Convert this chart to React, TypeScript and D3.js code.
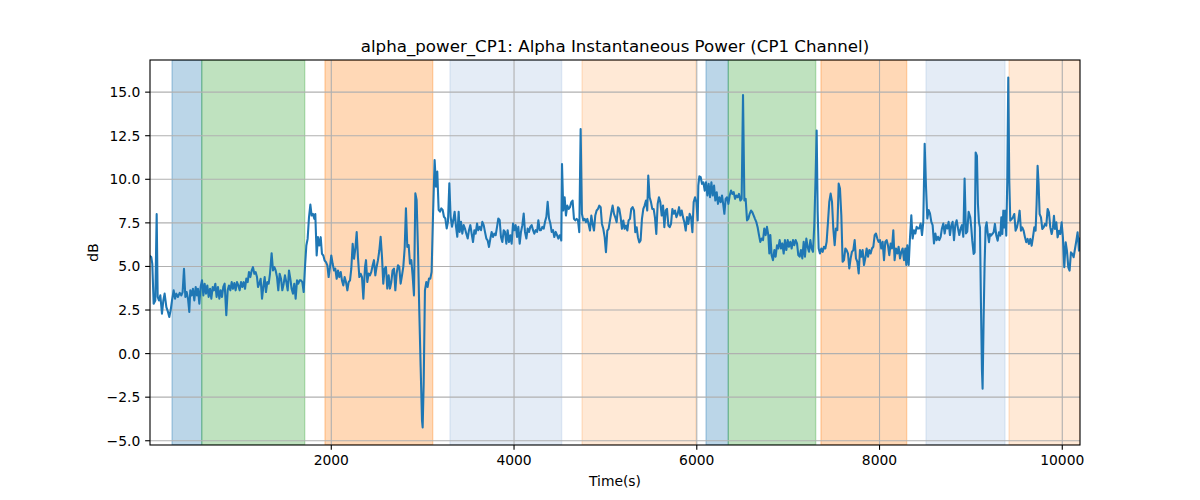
import React from "react";
import * as d3 from "d3";

// alpha_power_CP1 samples: [time (s), power (dB)]
const alphaPower: [number, number][] = [
  [16, 5.6], [30, 5.54], [41, 5.15], [56, 2.86], [74, 3.05], [89, 8.0], [100, 3.25], [114, 3.05], [129, 3.34],
  [147, 2.29], [162, 3.05], [176, 3.44], [195, 2.67], [213, 2.39], [227, 2.1], [242, 2.48], [257, 3.05],
  [275, 3.63], [290, 3.15], [304, 3.44], [322, 3.25], [341, 3.48], [359, 3.34], [373, 3.53], [388, 4.87],
  [403, 3.25], [417, 3.53], [432, 3.15], [446, 2.39], [457, 3.63], [472, 3.34], [486, 3.72], [501, 3.05],
  [516, 3.82], [530, 3.34], [541, 3.72], [556, 2.86], [570, 3.82], [585, 4.2], [600, 3.34], [614, 4.01],
  [629, 3.44], [643, 3.91], [658, 3.25], [673, 3.72], [687, 3.15], [702, 3.82], [716, 3.63], [731, 4.01],
  [745, 3.25], [760, 3.82], [775, 3.15], [789, 3.63], [804, 3.25], [818, 3.82], [833, 4.01], [851, 2.2],
  [866, 3.63], [880, 3.91], [895, 3.63], [910, 4.1], [924, 3.72], [939, 4.05], [953, 3.63], [968, 4.1],
  [983, 3.91], [997, 3.63], [1012, 4.1], [1026, 3.82], [1041, 4.1], [1056, 3.72], [1070, 4.3], [1085, 4.1],
  [1099, 4.68], [1114, 4.39], [1129, 4.77], [1143, 4.96], [1158, 4.58], [1172, 4.68], [1187, 4.39],
  [1198, 3.82], [1212, 4.01], [1227, 4.29], [1242, 3.15], [1256, 3.82], [1271, 4.39], [1285, 3.53],
  [1300, 4.1], [1315, 4.01], [1329, 4.58], [1347, 5.76], [1362, 4.77], [1377, 4.96], [1391, 4.77],
  [1406, 4.39], [1420, 3.63], [1435, 4.58], [1450, 4.29], [1464, 3.63], [1479, 4.01], [1493, 4.49],
  [1508, 4.1], [1523, 3.63], [1537, 4.77], [1552, 4.29], [1566, 3.72], [1581, 3.44], [1595, 4.01],
  [1610, 3.15], [1625, 4.2], [1639, 4.01], [1654, 4.2], [1668, 4.2], [1683, 4.1], [1698, 3.53], [1712, 4.96],
  [1727, 6.2], [1741, 6.58], [1756, 7.82], [1771, 8.55], [1785, 7.92], [1800, 8.01], [1814, 7.73],
  [1825, 8.01], [1840, 5.63], [1854, 6.68], [1869, 6.2], [1884, 6.68], [1898, 5.72], [1913, 5.63],
  [1927, 5.34], [1942, 5.25], [1957, 5.06], [1971, 4.39], [1986, 4.96], [2000, 5.63], [2015, 5.15],
  [2030, 4.77], [2044, 4.87], [2059, 4.29], [2073, 4.77], [2088, 4.39], [2103, 4.68], [2117, 4.2],
  [2132, 3.91], [2146, 4.39], [2161, 4.1], [2176, 3.63], [2190, 4.1], [2205, 4.2], [2219, 4.87], [2234, 6.3],
  [2249, 5.44], [2263, 6.01], [2278, 6.97], [2292, 5.53], [2307, 4.39], [2322, 4.58], [2336, 4.39],
  [2351, 3.15], [2369, 4.96], [2380, 5.36], [2394, 4.11], [2409, 4.59], [2423, 4.49], [2438, 4.69],
  [2453, 5.07], [2467, 5.36], [2482, 4.49], [2496, 4.97], [2511, 5.36], [2526, 5.93], [2540, 6.7],
  [2555, 5.55], [2569, 4.01], [2584, 4.88], [2598, 4.97], [2613, 3.73], [2628, 4.49], [2642, 3.73],
  [2657, 4.11], [2671, 4.78], [2686, 4.88], [2701, 3.63], [2715, 4.59], [2730, 5.07], [2744, 4.97],
  [2759, 4.01], [2774, 4.49], [2788, 4.97], [2803, 6.03], [2817, 8.33], [2832, 6.12], [2847, 6.22],
  [2861, 5.16], [2876, 5.36], [2890, 4.49], [2905, 3.34], [2920, 9.19], [2934, 8.81], [2949, 5.93],
  [2963, 2.48], [2978, -0.78], [2993, -3.85], [3000, -4.24], [3011, -1.74], [3025, 3.63], [3040, 4.11],
  [3054, 3.82], [3069, 4.3], [3084, 4.3], [3098, 4.69], [3113, 7.85], [3131, 11.11], [3146, 9.58],
  [3160, 10.44], [3175, 8.24], [3190, 8.14], [3204, 8.33], [3219, 8.24], [3233, 7.85], [3248, 7.76],
  [3263, 7.18], [3277, 7.56], [3292, 9.77], [3306, 7.85], [3321, 7.28], [3336, 7.66], [3350, 8.14],
  [3365, 7.28], [3379, 6.7], [3394, 8.14], [3405, 6.98], [3420, 7.56], [3434, 6.88], [3449, 7.37],
  [3463, 7.17], [3478, 6.88], [3493, 6.6], [3507, 7.08], [3522, 7.37], [3536, 6.88], [3551, 6.4],
  [3566, 7.08], [3580, 6.88], [3595, 7.46], [3609, 7.08], [3624, 7.27], [3639, 7.08], [3653, 7.56],
  [3668, 7.37], [3682, 6.98], [3697, 6.6], [3711, 6.5], [3726, 6.12], [3741, 6.6], [3755, 6.98],
  [3770, 6.69], [3784, 6.88], [3799, 6.79], [3814, 7.27], [3828, 7.75], [3843, 7.65], [3857, 6.69],
  [3872, 6.4], [3887, 7.08], [3901, 6.98], [3916, 6.31], [3930, 7.08], [3945, 6.4], [3960, 6.79],
  [3974, 6.31], [3989, 7.46], [4003, 7.08], [4018, 7.37], [4033, 6.69], [4047, 7.27], [4062, 6.31],
  [4076, 6.98], [4091, 7.37], [4106, 8.04], [4120, 6.98], [4135, 6.6], [4149, 7.17], [4164, 6.98],
  [4178, 7.27], [4193, 7.37], [4208, 7.08], [4222, 6.88], [4237, 7.08], [4252, 6.98], [4266, 7.65],
  [4281, 7.08], [4295, 7.08], [4310, 7.27], [4325, 7.17], [4339, 7.56], [4354, 7.85], [4368, 8.71],
  [4383, 7.75], [4398, 7.46], [4412, 6.98], [4427, 7.08], [4441, 6.69], [4456, 6.98], [4471, 6.79],
  [4485, 6.6], [4500, 6.79], [4506, 6.78], [4517, 6.49], [4525, 10.88], [4539, 8.21], [4554, 8.97],
  [4568, 7.92], [4583, 8.49], [4598, 8.3], [4612, 8.4], [4627, 8.69], [4641, 8.78], [4656, 7.73],
  [4671, 7.64], [4685, 7.73], [4700, 7.64], [4714, 6.97], [4729, 12.88], [4743, 8.02], [4758, 7.64],
  [4773, 7.73], [4787, 7.54], [4802, 7.73], [4816, 7.44], [4831, 7.06], [4846, 7.92], [4860, 7.44],
  [4875, 7.06], [4889, 7.92], [4904, 8.21], [4919, 8.3], [4933, 8.49], [4948, 8.4], [4962, 7.44],
  [4977, 7.16], [4992, 6.68], [5006, 5.82], [5021, 7.06], [5035, 7.16], [5050, 7.64], [5065, 8.11],
  [5079, 8.49], [5094, 8.02], [5108, 7.82], [5123, 7.54], [5138, 8.4], [5152, 8.3], [5167, 7.82],
  [5181, 7.16], [5196, 7.64], [5210, 7.16], [5225, 7.35], [5240, 7.06], [5254, 7.64], [5269, 7.73],
  [5283, 8.3], [5298, 8.4], [5313, 8.21], [5327, 6.97], [5342, 7.25], [5356, 6.68], [5371, 6.38],
  [5385, 6.49], [5400, 7.73], [5415, 8.3], [5429, 8.49], [5444, 8.78], [5458, 8.21], [5469, 10.21],
  [5484, 8.97], [5499, 8.69], [5513, 8.3], [5528, 8.3], [5542, 7.82], [5557, 6.87], [5572, 8.59],
  [5586, 8.97], [5601, 8.69], [5616, 7.92], [5631, 8.5], [5645, 7.25], [5660, 8.21], [5674, 8.3],
  [5689, 7.35], [5704, 7.25], [5718, 7.44], [5733, 8.3], [5747, 8.02], [5762, 8.21], [5777, 7.83],
  [5791, 8.02], [5806, 8.4], [5820, 7.92], [5835, 8.21], [5849, 7.83], [5864, 7.54], [5879, 7.06],
  [5893, 7.83], [5908, 7.44], [5922, 8.02], [5937, 7.83], [5952, 6.97], [5966, 8.69], [5981, 8.97],
  [5996, 8.69], [6010, 7.64], [6017, 9.64], [6028, 10.17], [6043, 10.12], [6057, 9.74], [6072, 9.83],
  [6087, 9.35], [6101, 9.83], [6116, 9.07], [6130, 9.74], [6145, 8.97], [6160, 9.83], [6174, 9.07],
  [6189, 9.64], [6203, 8.78], [6218, 9.26], [6232, 8.59], [6247, 8.97], [6262, 8.69], [6276, 9.07],
  [6291, 8.5], [6302, 8.02], [6316, 8.88], [6331, 8.97], [6346, 8.59], [6360, 9.07], [6375, 9.35],
  [6389, 9.16], [6404, 9.26], [6419, 8.88], [6433, 9.07], [6448, 8.97], [6462, 9.16], [6477, 8.78],
  [6491, 8.88], [6506, 14.83], [6521, 8.78], [6535, 8.88], [6550, 7.64], [6564, 7.73], [6579, 8.02],
  [6594, 8.21], [6608, 8.11], [6623, 7.92], [6637, 7.73], [6652, 7.54], [6666, 7.25], [6681, 6.8],
  [6695, 6.41], [6710, 6.6], [6725, 6.51], [6739, 7.18], [6754, 6.8], [6768, 7.27], [6783, 6.8],
  [6794, 5.74], [6805, 6.8], [6819, 5.65], [6834, 5.36], [6849, 5.94], [6863, 5.56], [6878, 6.22],
  [6892, 6.03], [6907, 6.51], [6922, 6.03], [6936, 6.32], [6951, 5.74], [6965, 6.51], [6980, 5.94],
  [6995, 6.51], [7009, 6.13], [7024, 6.41], [7038, 6.03], [7053, 6.51], [7067, 6.22], [7082, 6.51],
  [7097, 6.32], [7111, 5.65], [7126, 5.56], [7140, 5.94], [7155, 5.46], [7170, 6.41], [7184, 5.56],
  [7199, 6.6], [7213, 6.13], [7228, 5.84], [7243, 6.51], [7257, 6.03], [7272, 5.84], [7286, 7.37],
  [7301, 10.23], [7312, 12.8], [7323, 8.13], [7334, 6.03], [7348, 5.74], [7363, 6.03], [7378, 5.84],
  [7392, 6.13], [7407, 6.03], [7421, 6.41], [7436, 7.56], [7450, 8.7], [7465, 9.18], [7480, 8.7],
  [7494, 7.18], [7509, 6.22], [7523, 7.18], [7538, 7.08], [7553, 9.75], [7567, 9.47], [7582, 7.94],
  [7596, 5.27], [7611, 5.36], [7626, 6.03], [7640, 5.94], [7655, 5.74], [7669, 4.89], [7684, 5.46],
  [7698, 5.84], [7713, 5.94], [7728, 6.51], [7742, 5.46], [7757, 5.27], [7772, 4.6], [7786, 5.94],
  [7801, 5.56], [7815, 5.94], [7830, 5.08], [7844, 5.46], [7859, 6.03], [7874, 5.56], [7888, 5.94],
  [7903, 5.74], [7917, 6.03], [7932, 6.13], [7947, 6.8], [7961, 6.89], [7976, 6.6], [7990, 6.41],
  [8005, 6.51], [8019, 6.03], [8034, 6.41], [8049, 5.36], [8063, 6.41], [8078, 6.51], [8092, 6.22],
  [8107, 5.65], [8122, 6.32], [8136, 6.03], [8151, 7.08], [8165, 5.36], [8180, 6.03], [8195, 5.74],
  [8209, 6.13], [8224, 5.46], [8239, 5.84], [8253, 6.03], [8268, 5.36], [8282, 6.03], [8293, 5.08],
  [8304, 6.22], [8319, 5.08], [8333, 6.6], [8348, 7.94], [8362, 6.6], [8377, 7.08], [8392, 6.89],
  [8406, 7.27], [8421, 7.18], [8435, 7.18], [8450, 7.46], [8465, 6.8], [8479, 7.56], [8494, 12.04],
  [8508, 9.66], [8523, 7.75], [8538, 8.23], [8552, 8.04], [8567, 7.56], [8581, 7.37], [8596, 6.32],
  [8611, 6.89], [8625, 6.51], [8640, 6.7], [8654, 6.51], [8669, 6.7], [8683, 7.18], [8698, 7.46],
  [8713, 6.89], [8727, 7.37], [8742, 7.18], [8756, 7.56], [8771, 6.8], [8786, 7.37], [8800, 7.56],
  [8815, 6.51], [8829, 7.37], [8844, 7.65], [8859, 7.18], [8873, 6.8], [8888, 7.18], [8902, 7.37],
  [8917, 6.7], [8931, 10.04], [8946, 6.89], [8960, 6.99], [8975, 8.13], [8993, 7.82], [9004, 7.24],
  [9015, 6.48], [9030, 5.72], [9041, 5.81], [9052, 11.54], [9066, 11.35], [9077, 8.58], [9088, 7.53],
  [9099, 7.24], [9110, 2.85], [9121, -0.97], [9128, -2.02], [9139, 1.9], [9150, 5.14], [9161, 7.24],
  [9172, 7.53], [9183, 6.96], [9198, 6.39], [9209, 6.86], [9220, 6.77], [9234, 6.86], [9249, 6.96],
  [9263, 7.44], [9278, 6.77], [9293, 6.48], [9307, 6.96], [9322, 6.77], [9333, 7.82], [9344, 6.86],
  [9355, 8.2], [9365, 7.24], [9376, 8.2], [9387, 6.77], [9398, 9.92], [9409, 15.84], [9420, 9.92],
  [9431, 7.63], [9446, 7.72], [9460, 7.82], [9475, 8.01], [9489, 7.05], [9504, 7.24], [9519, 7.63],
  [9533, 8.2], [9548, 7.05], [9562, 7.24], [9577, 7.05], [9592, 6.67], [9606, 6.39], [9621, 6.58],
  [9635, 6.29], [9650, 6.58], [9665, 6.19], [9679, 6.67], [9694, 7.24], [9708, 7.05], [9719, 8.58],
  [9730, 10.78], [9741, 9.73], [9752, 8.01], [9767, 7.82], [9781, 7.15], [9796, 7.24], [9811, 7.44],
  [9825, 7.34], [9840, 8.3], [9854, 8.1], [9869, 7.24], [9884, 6.86], [9898, 7.24], [9909, 7.91],
  [9920, 7.15], [9935, 7.53], [9949, 6.67], [9964, 7.05], [9978, 6.86], [9993, 7.53], [10007, 6.67],
  [10022, 4.95], [10037, 6.39], [10051, 5.91], [10066, 4.95], [10080, 4.76], [10095, 5.81],
  [10110, 5.72], [10124, 5.53], [10139, 6.0], [10154, 6.48], [10168, 6.96], [10183, 5.91], [10194, 6.6],
];

// shaded task windows: [start (s), end (s), kind]
const windows: [number, number, string][] = [
  [257, 582, "blue"],
  [582, 1709, "green"],
  [1931, 3110, "orange"],
  [3299, 4521, "paleBlue"],
  [4744, 5991, "paleOrange"],
  [6101, 6345, "blue"],
  [6345, 7301, "green"],
  [7359, 8297, "orange"],
  [8509, 9373, "paleBlue"],
  [9417, 10194, "paleOrange"],
];

const xTicks = [2000, 4000, 6000, 8000, 10000];
const yTicks = [-5, -2.5, 0, 2.5, 5, 7.5, 10, 12.5, 15];

const windowStyle: Record<string, { color: string; alpha: number }> = {
  blue: { color: "#1f77b4", alpha: 0.3 },
  green: { color: "#2ca02c", alpha: 0.3 },
  orange: { color: "#ff7f0e", alpha: 0.3 },
  paleBlue: { color: "#a5c0e1", alpha: 0.3 },
  paleOrange: { color: "#ff7f0e", alpha: 0.17 },
};

const W = 1200;
const H = 500;
const margin = { top: 60, right: 120, bottom: 55, left: 150 };
const font = "DejaVu Sans, sans-serif";
const pt = 100 / 72; // matplotlib points -> px at 100 dpi

const fmtY = (v: number) => v.toFixed(1).replace("-", "\u2212");

const App: React.FC = () => {
  const iw = W - margin.left - margin.right;
  const ih = H - margin.top - margin.bottom;

  const x = d3
    .scaleLinear()
    .domain(d3.extent(alphaPower, (d) => d[0]) as [number, number])
    .range([0, iw]);

  const [lo, hi] = d3.extent(alphaPower, (d) => d[1]) as [number, number];
  const pad = (hi - lo) * 0.05;
  const y = d3.scaleLinear().domain([lo - pad, hi + pad]).range([ih, 0]);

  const line = d3
    .line<[number, number]>()
    .x((d) => x(d[0]))
    .y((d) => y(d[1]));

  const tickLen = 3.5 * pt;
  const labelSize = 10 * pt;

  return (
    <div style={{ position: "absolute", left: 0, top: 0 }}>
      <svg width={W} height={H} style={{ display: "block", background: "#fff" }}>
        <defs>
          <clipPath id="plot-area">
            <rect x={0} y={0} width={iw} height={ih} />
          </clipPath>
        </defs>
        <g transform={`translate(${margin.left},${margin.top})`}>
          <g clipPath="url(#plot-area)">
            {windows.map(([s, e, kind], i) => {
              const st = windowStyle[kind];
              return (
                <rect
                  key={i}
                  x={x(s)}
                  y={0}
                  width={x(e) - x(s)}
                  height={ih}
                  fill={st.color}
                  fillOpacity={st.alpha}
                  stroke={st.color}
                  strokeOpacity={st.alpha}
                  strokeWidth={pt}
                />
              );
            })}

            {/* grid */}
            {xTicks.map((t) => (
              <line key={`gx${t}`} x1={x(t)} x2={x(t)} y1={0} y2={ih} stroke="#b0b0b0" strokeWidth={0.8 * pt} />
            ))}
            {yTicks.map((t) => (
              <line key={`gy${t}`} x1={0} x2={iw} y1={y(t)} y2={y(t)} stroke="#b0b0b0" strokeWidth={0.8 * pt} />
            ))}

            <path
              d={line(alphaPower) ?? ""}
              fill="none"
              stroke="#1f77b4"
              strokeWidth={1.5 * pt}
              strokeLinejoin="round"
              strokeLinecap="square"
            />
          </g>

          <rect x={0} y={0} width={iw} height={ih} fill="none" stroke="#000" strokeWidth={0.8 * pt} />

          {/* x axis */}
          {xTicks.map((t) => (
            <g key={`xt${t}`} transform={`translate(${x(t)},${ih})`}>
              <line y1={0} y2={tickLen} stroke="#000" strokeWidth={0.8 * pt} />
              <text y={20} textAnchor="middle" fontFamily={font} fontSize={labelSize} fill="#000">
                {t}
              </text>
            </g>
          ))}

          {/* y axis */}
          {yTicks.map((t) => (
            <g key={`yt${t}`} transform={`translate(0,${y(t)})`}>
              <line x1={0} x2={-tickLen} stroke="#000" strokeWidth={0.8 * pt} />
              <text x={-2 * tickLen} dy="0.36em" textAnchor="end" fontFamily={font} fontSize={labelSize} fill="#000">
                {fmtY(t)}
              </text>
            </g>
          ))}

          <text x={iw / 2} y={ih + 41} textAnchor="middle" fontFamily={font} fontSize={labelSize} fill="#000">
            Time(s)
          </text>
          <text
            transform={`translate(${-52},${ih / 2}) rotate(-90)`}
            textAnchor="middle"
            fontFamily={font}
            fontSize={labelSize}
            fill="#000"
          >
            dB
          </text>
          <text x={iw / 2} y={-8} textAnchor="middle" fontFamily={font} fontSize={12 * pt} fill="#000">
            alpha_power_CP1: Alpha Instantaneous Power (CP1 Channel)
          </text>
        </g>
      </svg>
    </div>
  );
};

export default App;
